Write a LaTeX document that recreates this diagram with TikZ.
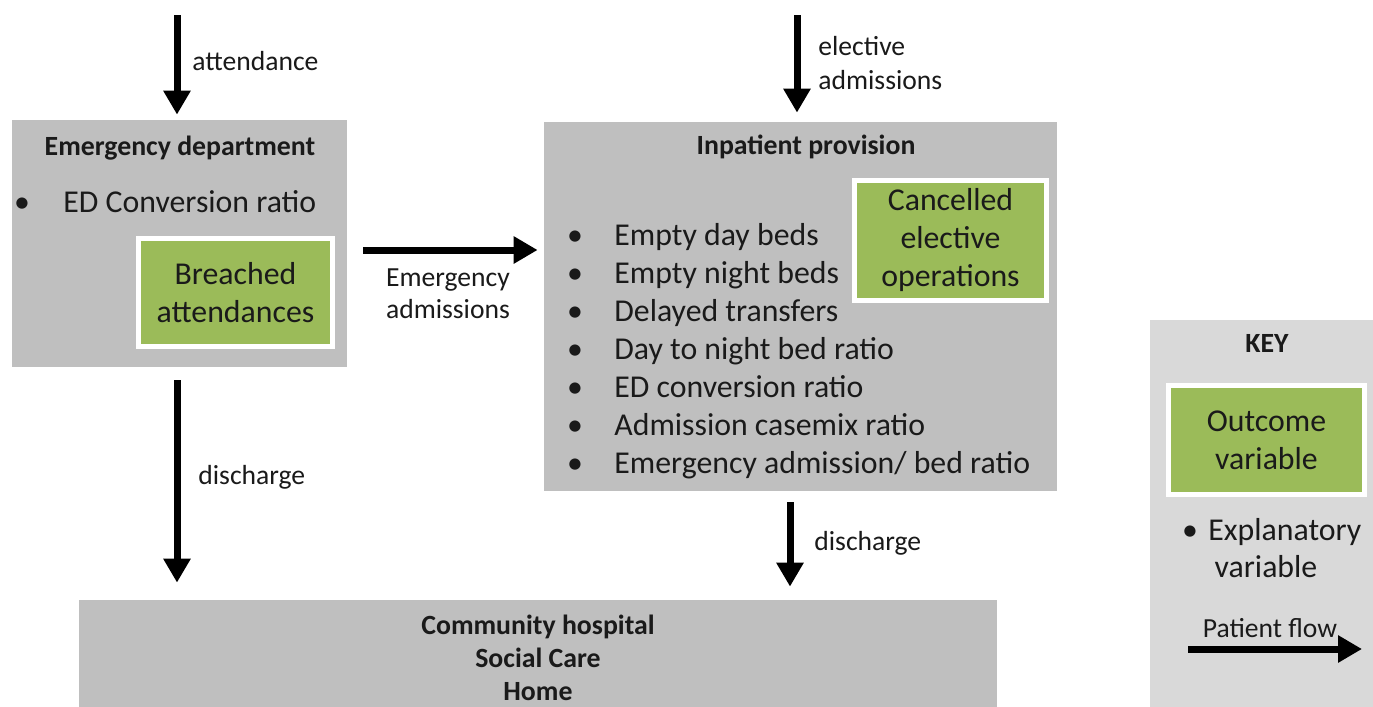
\documentclass[tikz,border=0pt]{standalone}
\usepackage{fontspec}
\setmainfont{Carlito}
\usetikzlibrary{arrows.meta,shadows}
\definecolor{boxgray}{HTML}{BFBFBF}
\definecolor{keygray}{HTML}{D9D9D9}
\definecolor{outgreen}{HTML}{9BBB59}
\definecolor{ink}{HTML}{1A1A1A}
\newcommand{\bigtext}{\fontsize{15.9}{19}\selectfont}
\newcommand{\smalltext}{\fontsize{13.8}{17}\selectfont}

\begin{document}
\begin{tikzpicture}[
    x=0.5pt, y=-0.5pt,
    every node/.style={text=ink, inner sep=0pt},
    area/.style={rectangle, fill=boxgray},
    outcome/.style={rectangle, fill=outgreen, draw=white, line width=2.5pt, align=center, font=\bigtext,
        drop shadow={shadow xshift=1.2pt, shadow yshift=-1.2pt, opacity=0.35, fill=black}},
    title/.style={font=\fontsize{13.9}{16}\selectfont\bfseries, anchor=base},
    item/.style={font=\bigtext, anchor=base west},
    dot/.style={font=\bigtext, anchor=base},
    flowlabel/.style={font=\smalltext, anchor=base west},
    flow/.style={line width=3.5pt, -{Triangle[length=12pt, width=13pt]}}
]
\useasboundingbox[fill=white] (0,0) rectangle (1373,707);

\node[area, minimum width=167.5pt, minimum height=123.5pt] (ed) at (179.5,243.5) {};
\node[area, minimum width=256.5pt, minimum height=184.5pt] (inp) at (800.5,306.5) {};
\node[area, fill=keygray, minimum width=111.5pt, minimum height=193.5pt] (key) at (1261.5,513.5) {};
\node[area, minimum width=459pt, minimum height=53.5pt] (comm) at (538,653.5) {};

\node[title] (edtitle) at (180,155) {Emergency department};
\node[dot] (eddot) at (22,212) {\textbullet};
\node[item] (edratio) at (63,212) {ED Conversion ratio};
\node[outcome, minimum width=97pt, minimum height=54pt] (breached) at (235.5,292.5) {Breached\\attendances};

\node[title] (inptitle) at (806,154) {Inpatient provision};
\foreach \t [count=\i from 0] in {Empty day beds, Empty night beds, Delayed transfers,
    Day to night bed ratio, ED conversion ratio, Admission casemix ratio, Emergency admission/ bed ratio} {
    \node[dot] (dot\i) at (575,{245+38*\i}) {\textbullet};
    \node[item] (item\i) at (614,{245+38*\i}) {\t};
}
\node[outcome, minimum width=96pt, minimum height=60pt] (cancelled) at (950.5,240.5) {Cancelled\\elective\\operations};

\foreach \t [count=\i from 0] in {Community hospital, Social Care, Home}
    \node[title] (comm\i) at (538,{634+33*\i}) {\t};

\node[title] (keytitle) at (1267,352) {KEY};
\node[outcome, minimum width=98pt, minimum height=54.5pt] (outvar) at (1266.5,440) {Outcome\\variable};
\node[dot] (keydot) at (1190,540) {\textbullet};
\node[item] (expl) at (1208,540) {Explanatory};
\node[dot] (explvar) at (1266,577) {variable};
\node[flowlabel, anchor=base] (flowtxt) at (1270,637) {Patient flow};
\coordinate (keyin) at (1188,649);
\coordinate (keyout) at (1362,649);
\draw[flow] (keyin) -- (keyout);

\coordinate (attin) at (177,15);
\coordinate (elin) at (797,15);
\coordinate (disin) at (790,0);

\draw[flow, shorten >=2.5pt] (attin) -- (attin |- ed.north);
\node[flowlabel] (attlbl) at (192,70) {attendance};

\draw[flow, shorten >=4.5pt] (elin) -- (elin |- inp.north);
\node[flowlabel] (elelbl) at (818,55) {elective};
\node[flowlabel] (elelbl2) at (818,89) {admissions};

\draw[flow, shorten <=8pt, shorten >=3pt] ([yshift=-3.25pt]ed.east) -- ([yshift=-3.25pt]ed.east -| inp.west);
\node[flowlabel, anchor=base] (emlbl) at (448,286) {Emergency};
\node[flowlabel, anchor=base] (emlbl2) at (448,318) {admissions};

\draw[flow, shorten <=6.5pt, shorten >=8.5pt] (ed.south -| attin) -- (comm.north -| attin);
\node[flowlabel] (edout) at (198,484) {discharge};

\draw[flow, shorten <=5.5pt, shorten >=6.5pt] (inp.south -| disin) -- (comm.north -| disin);
\node[flowlabel] (inpout) at (814,550) {discharge};
\end{tikzpicture}
\end{document}
